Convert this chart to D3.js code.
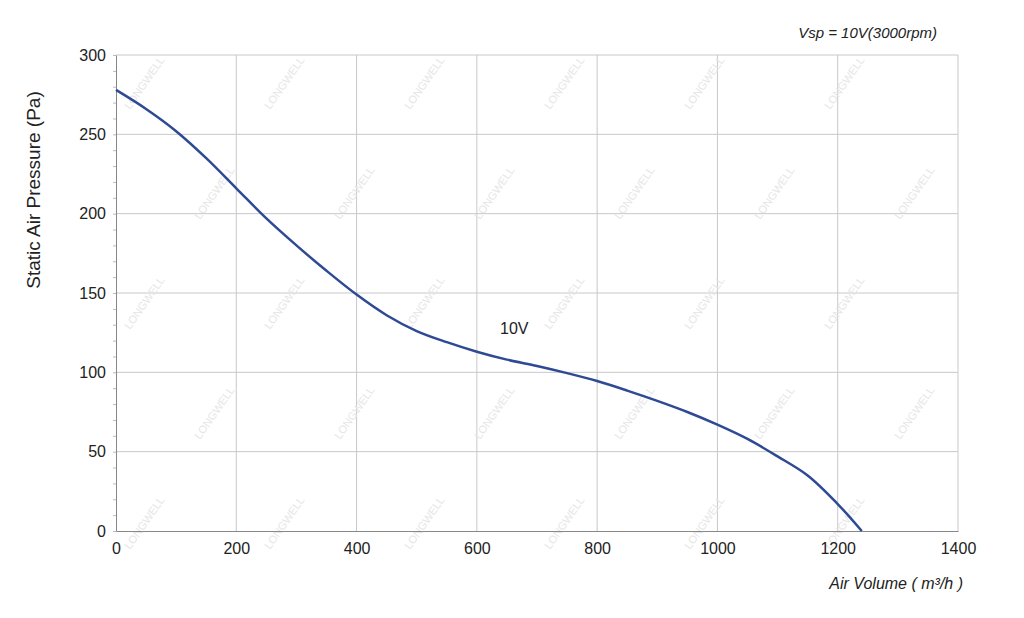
<!DOCTYPE html><html><head><meta charset="utf-8">
<script src="https://cdn.jsdelivr.net/npm/d3@7"></script>
<style>body{margin:0;background:#fff}svg{font-family:"Liberation Sans",Arial,sans-serif}</style></head><body>
<svg id="c" width="1024" height="618"></svg>
<script>
const airVolume=[0,50,100,150,200,250,300,350,400,450,500,550,600,650,700,750,800,850,900,950,1000,1050,1100,1150,1200,1240];
const pressure=[278,266,252,235,216,197,180,164,149,136,126,119,113,108,104,99.5,94.5,88.5,82,75,67,58,47,35,17,0];
const xTicks=[0,200,400,600,800,1000,1200,1400];
const yTicks=[0,50,100,150,200,250,300];
const svg=d3.select("#c");
const x=d3.scaleLinear().domain([0,1400]).range([116,958]);
const y=d3.scaleLinear().domain([0,300]).range([531,55]);
const g=svg.append("g");
g.selectAll(".vg").data(xTicks.slice(1)).join("line").attr("x1",d=>x(d)).attr("x2",d=>x(d)).attr("y1",y(0)).attr("y2",y(300)).attr("stroke","#c8c8c8");
g.selectAll(".hg").data(yTicks.slice(1)).join("line").attr("x1",x(0)).attr("x2",x(1400)).attr("y1",d=>y(d)).attr("y2",d=>y(d)).attr("stroke","#c8c8c8");
const wm=g.append("g");
for(let r=0;r<5;r++)for(let c=0;c<6;c++){
 const px=130+c*140+(r%2)*70, py=110+r*110;
 wm.append("text").attr("transform",`translate(${px},${py}) rotate(-55)`).attr("font-size",11).attr("fill","#e6e6e6").text("LONGWELL");
}
const xa=svg.append("g").attr("transform",`translate(0,${y(0)})`).call(d3.axisBottom(x).tickValues(xTicks).tickSize(0).tickPadding(12).tickFormat(d3.format("d")));
xa.select(".domain").attr("stroke","#888");xa.selectAll("text").attr("font-size",16).attr("fill","#222");
const ya=svg.append("g").attr("transform",`translate(${x(0)},0)`).call(d3.axisLeft(y).tickValues(yTicks).tickSize(0).tickPadding(10));
ya.select(".domain").attr("stroke","#888");ya.selectAll("text").attr("font-size",16).attr("fill","#222");
svg.append("g").attr("transform",`translate(${x(0)},0)`).call(d3.axisLeft(y).tickValues(d3.range(0,301,10)).tickSize(3).tickFormat("")).call(a=>a.select(".domain").remove()).selectAll("line").attr("stroke","#bbb");
svg.append("path").datum(airVolume.map((v,i)=>[v,pressure[i]])).attr("fill","none").attr("stroke","#2e4a94").attr("stroke-width",2.5)
 .attr("d",d3.line().x(d=>x(d[0])).y(d=>y(d[1])).curve(d3.curveCatmullRom));
svg.append("text").attr("x",500).attr("y",334).attr("font-size",16).attr("fill","#222").text("10V");
svg.append("text").attr("transform",`translate(40,190) rotate(-90)`).attr("text-anchor","middle").attr("font-size",19).attr("fill","#222").text("Static Air Pressure  (Pa)");
svg.append("text").attr("x",963).attr("y",589).attr("text-anchor","end").attr("font-size",16).attr("font-style","italic").attr("fill","#222").text("Air Volume ( m³/h )");
svg.append("text").attr("x",937).attr("y",38).attr("text-anchor","end").attr("font-size",15).attr("font-style","italic").attr("fill","#222").text("Vsp = 10V(3000rpm)");
</script></body></html>
